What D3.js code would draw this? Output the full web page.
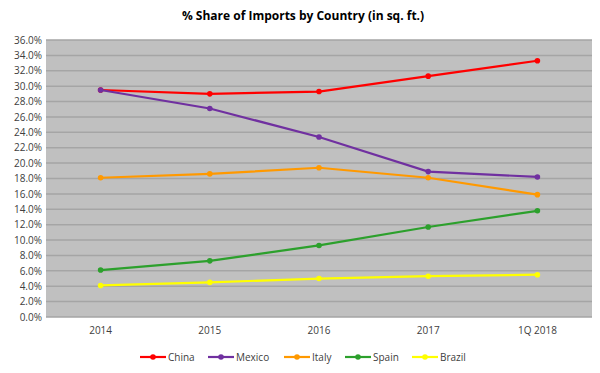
<!DOCTYPE html>
<html><head><meta charset="utf-8">
<script src="https://cdn.jsdelivr.net/npm/d3@7"></script>
<style>body{margin:0;background:#fff;}svg{display:block;font-family:"Open Sans","Liberation Sans",sans-serif;}</style>
</head><body><svg id="c" width="600" height="373"></svg>
<script>
const categories = ["2014","2015","2016","2017","1Q 2018"];
const seriesNames = ["China","Mexico","Italy","Spain","Brazil"];
const seriesColors = ["#ff0000","#7030a0","#ff9900","#2ca02c","#ffff00"];
const china  = [29.5, 29.0, 29.3, 31.3, 33.3];
const mexico = [29.5, 27.1, 23.4, 18.9, 18.2];
const italy  = [18.1, 18.6, 19.4, 18.1, 15.9];
const spain  = [6.1, 7.3, 9.3, 11.7, 13.8];
const brazil = [4.1, 4.5, 5.0, 5.3, 5.5];
const yTicks = [0,2,4,6,8,10,12,14,16,18,20,22,24,26,28,30,32,34,36];

const series = [china, mexico, italy, spain, brazil];
const svg = d3.select("#c");
const L = 46, R = 592, T = 40, B = 317;
const x = d3.scaleBand().domain(categories).range([L, R]);
const y = d3.scaleLinear().domain([0, 36]).range([B, T]);

svg.append("rect").attr("x", L).attr("y", T).attr("width", R - L).attr("height", B - T).attr("fill", "#c0c0c0");

svg.append("g").selectAll("line").data(yTicks).join("line")
  .attr("x1", L).attr("x2", R).attr("y1", d => y(d)).attr("y2", d => y(d))
  .attr("stroke", "#a5a5a5").attr("stroke-width", 1.5);

const yAxis = svg.append("g").attr("transform", `translate(${L},0)`)
  .call(d3.axisLeft(y).tickValues(yTicks).tickFormat(d => d.toFixed(1) + "%").tickSize(0).tickPadding(4));
yAxis.select(".domain").remove();
yAxis.selectAll("text").attr("fill", "#404040").style("font-size", "10px").style("font-family", "\"Open Sans\",sans-serif");

const xAxis = svg.append("g").attr("transform", `translate(0,${B})`)
  .call(d3.axisBottom(x).tickSize(0).tickPadding(10));
xAxis.select(".domain").remove();
xAxis.selectAll("text").attr("fill", "#404040").style("font-size", "10px").style("font-family", "\"Open Sans\",sans-serif");

const line = d3.line().x((d, i) => x(categories[i]) + x.bandwidth() / 2).y(d => y(d));
series.forEach((s, k) => {
  svg.append("path").datum(s).attr("d", line).attr("fill", "none")
    .attr("stroke", seriesColors[k]).attr("stroke-width", 2.2);
  svg.append("g").selectAll("circle").data(s).join("circle")
    .attr("cx", (d, i) => x(categories[i]) + x.bandwidth() / 2).attr("cy", d => y(d))
    .attr("r", 2.8).attr("fill", seriesColors[k]);
});

svg.append("text").attr("x", 303).attr("y", 20).attr("text-anchor", "middle")
  .attr("fill", "#000").style("font-size", "12px").style("font-weight", "bold")
  .text("% Share of Imports by Country (in sq. ft.)");

const legX = [140, 208, 284, 345, 412];
const leg = svg.append("g").selectAll("g").data(seriesNames).join("g")
  .attr("transform", (d, i) => `translate(${legX[i]},357)`);
leg.append("line").attr("x1", 0).attr("x2", 26).attr("stroke", (d, i) => seriesColors[i]).attr("stroke-width", 2.2);
leg.append("circle").attr("cx", 13).attr("r", 2.8).attr("fill", (d, i) => seriesColors[i]);
leg.append("text").attr("x", 28).attr("y", 4).attr("fill", "#404040").style("font-size", "10px").text(d => d);
</script></body></html>
